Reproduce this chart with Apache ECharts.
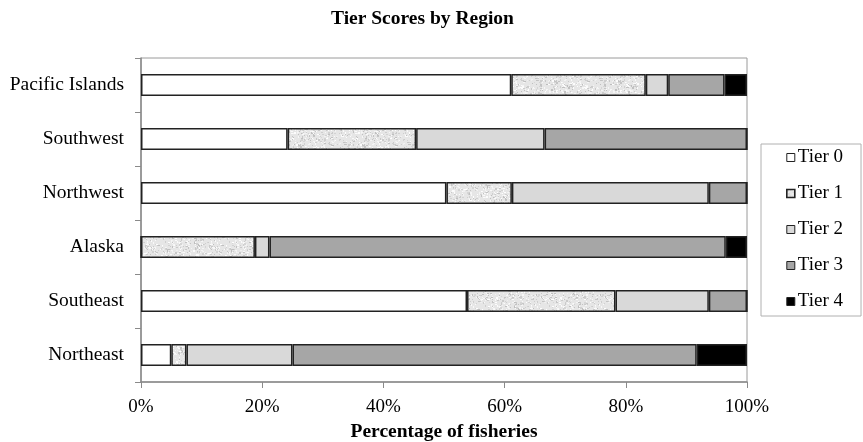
<!DOCTYPE html>
<html>
<head>
<meta charset="utf-8">
<script src="https://cdn.jsdelivr.net/npm/echarts@6/dist/echarts.min.js"></script>
<style>
  html, body { margin: 0; padding: 0; background: #fff; }
  #chart { width: 863px; height: 442px; }
</style>
</head>
<body>
<div id="chart"></div>
<script>
// Regions, listed bottom to top on the category axis
const regions = ['Northeast', 'Southeast', 'Alaska', 'Northwest', 'Southwest', 'Pacific Islands'];
const tierNames = ['Tier 0', 'Tier 1', 'Tier 2', 'Tier 3', 'Tier 4'];

// Share of fisheries (%) in each tier, per region
const tier0 = [5.0, 53.8, 0, 50.4, 24.2, 61.1];
const tier1 = [2.5, 24.5, 18.8, 10.8, 21.2, 22.2];
const tier2 = [17.5, 15.4, 2.4, 32.5, 21.2, 3.7];
const tier3 = [66.7, 6.3, 75.3, 6.3, 33.4, 9.3];
const tier4 = [8.3, 0, 3.5, 0, 0, 3.7];

const xTicks = [0, 20, 40, 60, 80, 100];

// Speckled grey texture used for Tier 1
function speckleTexture() {
  const c = document.createElement('canvas');
  c.width = 64; c.height = 64;
  const g = c.getContext('2d');
  g.fillStyle = '#e6e6e6';
  g.fillRect(0, 0, 64, 64);
  let s = 12345;
  const next = () => { s = (s * 1103515245 + 12345) & 0x7fffffff; return s / 0x7fffffff; };
  for (let i = 0; i < 900; i++) {
    const x = Math.floor(next() * 64), y = Math.floor(next() * 64);
    const v = next();
    const shade = v < 0.5 ? 190 + Math.floor(next() * 25) : 240 + Math.floor(next() * 15);
    g.fillStyle = 'rgb(' + shade + ',' + shade + ',' + shade + ')';
    g.fillRect(x, y, 1 + (next() < 0.35 ? 1 : 0), 1 + (next() < 0.2 ? 1 : 0));
  }
  return c;
}

const fills = [
  '#ffffff',
  { image: speckleTexture(), repeat: 'repeat' },
  '#d9d9d9',
  '#a6a6a6',
  '#000000'
];
const tierData = [tier0, tier1, tier2, tier3, tier4];
const serif = 'Liberation Serif';

const chart = echarts.init(document.getElementById('chart'), null, { renderer: 'canvas' });

chart.setOption({
  animation: false,
  backgroundColor: '#ffffff',
  title: {
    text: 'Tier Scores by Region',
    left: 326,
    top: 4,
    textStyle: { fontFamily: serif, fontWeight: 'bold', fontSize: 19.5, color: '#000' }
  },
  legend: {
    orient: 'vertical',
    left: 761,
    top: 144,
    padding: [4, 18, 5, 25],
    itemGap: 17,
    itemWidth: 8,
    itemHeight: 8,
    icon: 'rect',
    borderColor: '#b0b0b0',
    borderWidth: 1,
    textStyle: { fontFamily: serif, fontSize: 19, color: '#000', lineHeight: 19, padding: [0, 0, 0, -2] },
    data: tierNames.map((n, i) => ({
      name: n,
      itemStyle: { borderColor: '#222', borderWidth: i === 1 ? 1.6 : 1 }
    }))
  },
  grid: {
    left: 141,
    right: 116,
    top: 58,
    bottom: 60,
    outerBoundsMode: 'none',
    show: true,
    borderColor: '#9a9a9a',
    borderWidth: 1
  },
  xAxis: {
    type: 'value',
    min: 0,
    max: 100,
    interval: 20,
    name: 'Percentage of fisheries',
    nameLocation: 'middle',
    nameGap: 38,
    nameTextStyle: { fontFamily: serif, fontWeight: 'bold', fontSize: 19.5, color: '#000' },
    axisLine: { show: true, lineStyle: { color: '#8a8a8a', width: 1.5 } },
    axisTick: { show: true, length: 6, lineStyle: { color: '#8a8a8a' } },
    splitLine: { show: false },
    axisLabel: {
      margin: 16,
      fontFamily: serif,
      fontSize: 19,
      color: '#000',
      formatter: v => (xTicks.indexOf(v) >= 0 ? v + '%' : '')
    }
  },
  yAxis: {
    type: 'category',
    data: regions,
    axisLine: { show: true, lineStyle: { color: '#8a8a8a', width: 1.5 } },
    axisTick: { show: true, length: 6, lineStyle: { color: '#8a8a8a' } },
    axisLabel: { margin: 17, fontFamily: serif, fontSize: 19.5, color: '#000' }
  },
  series: tierNames.map((n, i) => ({
    name: n,
    type: 'bar',
    stack: 'total',
    barWidth: 22,
    data: tierData[i],
    itemStyle: { color: fills[i], borderColor: '#222', borderWidth: 1.5 }
  }))
});
</script>
</body>
</html>
